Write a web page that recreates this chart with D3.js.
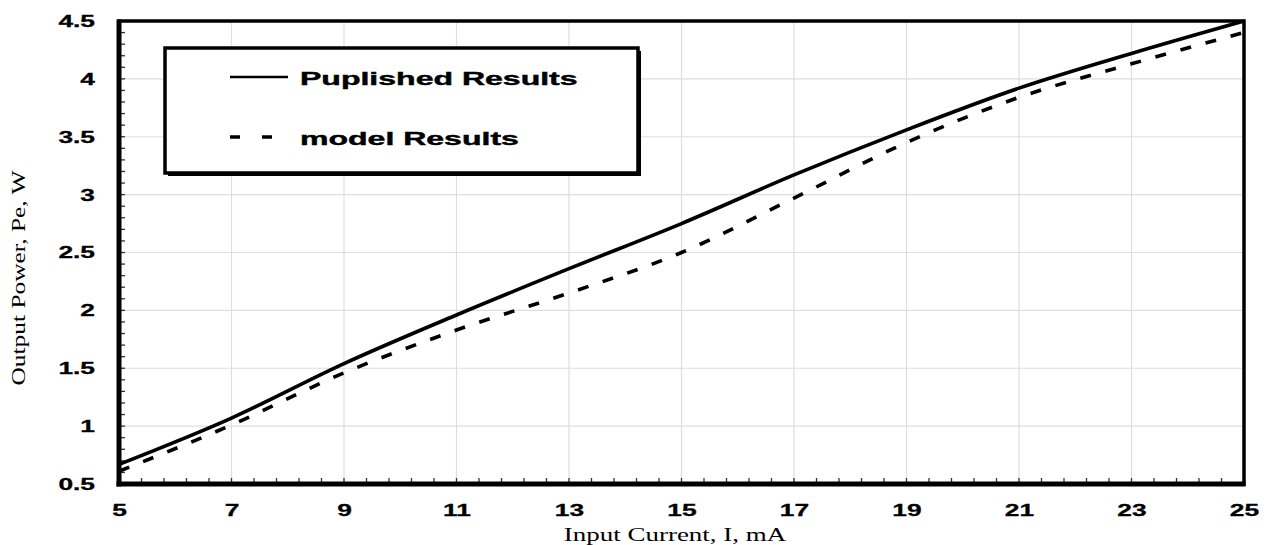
<!DOCTYPE html>
<html>
<head>
<meta charset="utf-8">
<script src="https://cdn.jsdelivr.net/npm/d3@7"></script>
<style>
  body { margin: 0; background: #fff; }
  svg { display: block; }
</style>
</head>
<body>
<svg id="chart"></svg>
<script>
// values (x in mA, y in W)
var current = [5, 7, 9, 11, 13, 15, 17, 19, 21, 23, 25];
var published = [0.67, 1.07, 1.54, 1.96, 2.36, 2.75, 3.17, 3.56, 3.92, 4.22, 4.5];
var model = [0.61, 1.01, 1.46, 1.83, 2.15, 2.5, 2.97, 3.45, 3.84, 4.13, 4.40];
var xTicks = [5, 7, 9, 11, 13, 15, 17, 19, 21, 23, 25];
var yTicks = [0.5, 1, 1.5, 2, 2.5, 3, 3.5, 4, 4.5];
var seriesNames = ["Puplished Results", "model Results"];

var W = 1268, H = 545;
var margin = {top: 21, right: 24, bottom: 61, left: 119};
var w = W - margin.left - margin.right;
var h = H - margin.top - margin.bottom;

var sans = "Liberation Sans, Arial, sans-serif";
var serif = "Liberation Serif, Times New Roman, serif";

var svg = d3.select("#chart").attr("width", W).attr("height", H);
var g = svg.append("g").attr("transform", "translate(" + margin.left + "," + margin.top + ")");

var x = d3.scaleLinear().domain([5, 25]).range([0, w]);
var y = d3.scaleLinear().domain([0.5, 4.5]).range([h, 0]);

// grid
g.append("g").selectAll("line").data(xTicks.slice(1, -1)).enter().append("line")
  .attr("x1", d => x(d)).attr("x2", d => x(d)).attr("y1", 0).attr("y2", h)
  .attr("stroke", "#dedede").attr("stroke-width", 1.2);
g.append("g").selectAll("line").data(yTicks.slice(1, -1)).enter().append("line")
  .attr("y1", d => y(d)).attr("y2", d => y(d)).attr("x1", 0).attr("x2", w)
  .attr("stroke", "#dedede").attr("stroke-width", 1.2);

// minor ticks (inside)
var xMinor = d3.range(0, 51).map(i => 5 + i * 0.4);
var yMinor = d3.range(0, 41).map(i => 0.5 + i * 0.1);
g.append("g").selectAll("line").data(xMinor).enter().append("line")
  .attr("x1", d => x(d)).attr("x2", d => x(d)).attr("y1", h).attr("y2", h - 6)
  .attr("stroke", "#333").attr("stroke-width", 1.3);
g.append("g").selectAll("line").data(yMinor).enter().append("line")
  .attr("y1", d => y(d)).attr("y2", d => y(d)).attr("x1", 0).attr("x2", 6)
  .attr("stroke", "#333").attr("stroke-width", 1.3);

// tick labels (the original font is a wide bold face, so stretch it)
var xAxis = d3.axisBottom(x).tickValues(xTicks).tickSize(0).tickPadding(20).tickFormat(d3.format("d"));
var gx = g.append("g").attr("transform", "translate(0," + h + ")").call(xAxis);
gx.select(".domain").remove();
gx.selectAll("text").attr("font-family", sans).attr("font-size", 17).attr("font-weight", "bold")
  .attr("fill", "#000").attr("stroke", "#000").attr("stroke-width", 0.3)
  .attr("transform", "scale(1.55,1)");

var yAxis = d3.axisLeft(y).tickValues(yTicks).tickSize(0).tickPadding(15.5).tickFormat(d3.format("~g"));
var gy = g.append("g").call(yAxis);
gy.select(".domain").remove();
gy.selectAll("text").attr("font-family", sans).attr("font-size", 17).attr("font-weight", "bold")
  .attr("fill", "#000").attr("stroke", "#000").attr("stroke-width", 0.3)
  .attr("transform", "scale(1.55,1)");

// curves
var line = d3.line().x(d => x(d[0])).y(d => y(d[1])).curve(d3.curveMonotoneX);
g.append("path").datum(current.map((c, i) => [c, published[i]]))
  .attr("d", line).attr("fill", "none").attr("stroke", "#000").attr("stroke-width", 3.6);
g.append("path").datum(current.map((c, i) => [c, model[i]]))
  .attr("d", line).attr("fill", "none").attr("stroke", "#000").attr("stroke-width", 3.6)
  .attr("stroke-dasharray", "11,15");

// frame
g.append("rect").attr("width", w).attr("height", h).attr("fill", "none")
  .attr("stroke", "#000").attr("stroke-width", 3.5);
g.append("line").attr("x1", 0).attr("x2", 0).attr("y1", -1.5).attr("y2", h + 2.5)
  .attr("stroke", "#000").attr("stroke-width", 5);
g.append("line").attr("x1", -2.5).attr("x2", w + 1.5).attr("y1", h).attr("y2", h)
  .attr("stroke", "#000").attr("stroke-width", 5);

// legend
var lg = svg.append("g").attr("transform", "translate(165,48)");
lg.append("rect").attr("x", 3).attr("y", 3).attr("width", 473).attr("height", 125).attr("fill", "#000");
lg.append("rect").attr("width", 473).attr("height", 125).attr("fill", "#fff")
  .attr("stroke", "#000").attr("stroke-width", 3.5);
lg.append("line").attr("x1", 65).attr("x2", 123).attr("y1", 29).attr("y2", 29)
  .attr("stroke", "#000").attr("stroke-width", 2.5);
lg.append("line").attr("x1", 65).attr("x2", 110).attr("y1", 89).attr("y2", 89)
  .attr("stroke", "#000").attr("stroke-width", 3.6).attr("stroke-dasharray", "10,22");
lg.selectAll("text.leg").data(seriesNames).enter().append("text")
  .attr("class", "leg")
  .attr("transform", (d, i) => "translate(135," + (37 + i * 60) + ") scale(1.78,1)")
  .attr("font-family", sans).attr("font-size", 18).attr("font-weight", "bold")
  .attr("stroke", "#000").attr("stroke-width", 0.4)
  .text(d => d);

// axis titles
svg.append("text").attr("transform", "translate(675,541) scale(1.5,1)").attr("text-anchor", "middle")
  .attr("font-family", serif).attr("font-size", 18)
  .text("Input Current, I, mA");
svg.append("text").attr("transform", "translate(25,278) rotate(-90) scale(1.41,1)").attr("text-anchor", "middle")
  .attr("font-family", serif).attr("font-size", 18)
  .text("Output Power, Pe, W");
</script>
</body>
</html>
